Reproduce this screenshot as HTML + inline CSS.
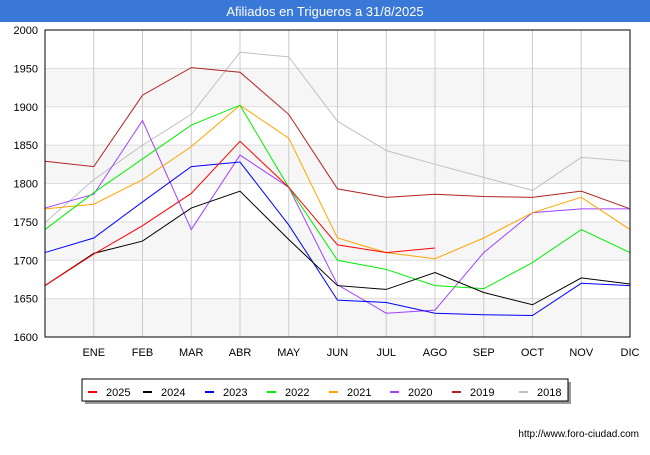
<!DOCTYPE html>
<html><head><meta charset="utf-8"><style>
body{margin:0;background:#fff;font-family:"Liberation Sans",sans-serif}
svg text{font-family:"Liberation Sans",sans-serif}
</style></head><body>
<svg width="650" height="450" xmlns="http://www.w3.org/2000/svg">
<rect x="0" y="0" width="650" height="22" fill="#3a78d8"/>
<text x="325" y="16" text-anchor="middle" fill="#fff" font-size="13">Afiliados en Trigueros a 31/8/2025</text>
<g id="bands"></g><g id="grid"></g><g id="lines"></g>
<rect x="45" y="30" width="585" height="307" fill="none" stroke="#000" stroke-width="1"/>
<g id="axes"></g>
<rect x="85" y="382" width="486" height="22" fill="#999"/>
<rect x="82" y="379" width="486" height="22" fill="#fff" stroke="#000"/>
<g id="legend"></g>
<text x="639" y="437" text-anchor="end" font-size="10" fill="#000">http://www.foro-ciudad.com</text>
</svg>
<script>
const months=["","ENE","FEB","MAR","ABR","MAY","JUN","JUL","AGO","SEP","OCT","NOV","DIC"];
const yTicks=[1600,1650,1700,1750,1800,1850,1900,1950,2000];
const seriesNames=["2025","2024","2023","2022","2021","2020","2019","2018"];
const seriesColors=["#ff0000","#000000","#0000ff","#00ee00","#ffa500","#a040ff","#b22222","#c0c0c0"];
const s2025=[1667,1708,1745,1787,1855,1795,1720,1710,1716];
const s2024=[1667,1709,1725,1768,1790,1727,1667,1662,1684,1658,1642,1677,1669];
const s2023=[1710,1729,1776,1822,1828,1746,1648,1645,1631,1629,1628,1670,1667];
const s2022=[1740,1788,1832,1876,1902,1795,1700,1688,1667,1663,1697,1740,1710];
const s2021=[1767,1773,1805,1848,1902,1859,1729,1710,1702,1729,1762,1782,1740];
const s2020=[1768,1786,1882,1740,1837,1795,1668,1631,1635,1710,1762,1767,1767];
const s2019=[1829,1822,1915,1951,1945,1890,1793,1782,1786,1783,1782,1790,1767];
const s2018=[1749,1805,1850,1890,1971,1965,1881,1843,1825,1808,1791,1834,1829];
const allSeries=[s2025,s2024,s2023,s2022,s2021,s2020,s2019,s2018];
const NS="http://www.w3.org/2000/svg";
const X0=45,X1=630,Y0=337,Y1=30;
const x=i=>X0+i*(X1-X0)/12;
const y=v=>Y0-(v-1600)*(Y0-Y1)/400;
function mk(t,a,p){const e=document.createElementNS(NS,t);for(const k in a)e.setAttribute(k,a[k]);p.appendChild(e);return e;}
const bands=document.getElementById('bands'),grid=document.getElementById('grid'),axes=document.getElementById('axes'),lines=document.getElementById('lines'),legend=document.getElementById('legend');
for(let i=0;i<yTicks.length-1;i+=2){
 const r=mk('rect',{x:X0,y:y(yTicks[i+1]),width:X1-X0,height:y(yTicks[i])-y(yTicks[i+1]),fill:'#f6f6f6'},bands);
 
 
}
yTicks.forEach(v=>{
 const l=mk('line',{x1:X0,x2:X1,y1:y(v),y2:y(v),stroke:'#ddd'},grid);
 
 
 const t=mk('text',{x:X0-7,y:y(v)+4,'text-anchor':'end','font-size':11,fill:'#000'},axes);
 t.textContent=v;
 
 
});
months.forEach((m,i)=>{
 if(i>0){const l=mk('line',{x1:x(i),x2:x(i),y1:Y1,y2:Y0,stroke:'#ccc'},grid);
 
 }
 if(m){const t=mk('text',{x:x(i),y:356,'text-anchor':'middle','font-size':11,fill:'#000'},axes);
 t.textContent=m;
 
 }
});
for(let k=allSeries.length-1;k>=0;k--){
 const p=mk('polyline',{points:allSeries[k].map((v,i)=>x(i)+','+y(v)).join(' '),fill:'none',stroke:seriesColors[k],'stroke-width':1},lines);
 
 
}
const lx=[88,143,205,267,329,390,452,519];
seriesNames.forEach((n,k)=>{
 const l=mk('line',{x1:lx[k],x2:lx[k]+9,y1:392,y2:392,stroke:seriesColors[k],'stroke-width':2},legend);
 
 
 const t=mk('text',{x:lx[k]+18,y:396,'font-size':11,fill:'#000'},legend);
 t.textContent=n;
 
 
});
</script>
</body></html>
